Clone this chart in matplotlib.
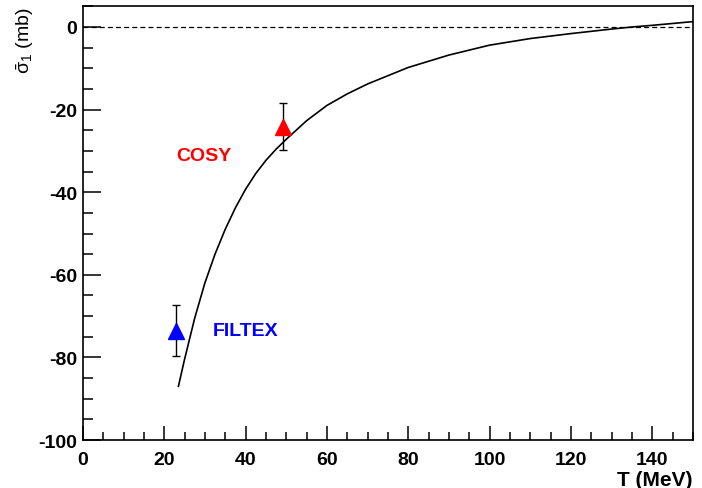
import matplotlib.pyplot as plt
from matplotlib.ticker import MultipleLocator

plt.rcParams['font.family'] = ['Liberation Sans', 'DejaVu Sans']
plt.rcParams['axes.unicode_minus'] = False
plt.rcParams['mathtext.fontset'] = 'custom'
plt.rcParams['mathtext.rm'] = 'Liberation Sans'
plt.rcParams['mathtext.it'] = 'Liberation Sans'

# theory curve
T_curve = [23.5, 25, 27.5, 30, 32.5, 35, 37.5, 40, 42.5, 45, 47.5, 50, 55, 60, 65,
           70, 80, 90, 100, 110, 120, 130, 135, 140, 150]
sigma_curve = [-87, -80.5, -70.5, -62, -55, -49, -43.8, -39.3, -35.5, -32.3, -29.6,
               -27.2, -22.7, -19, -16.2, -13.8, -9.8, -6.8, -4.4, -2.8, -1.6, -0.5,
               0.0, 0.4, 1.3]

# measurements
exp_names = ['FILTEX', 'COSY']
exp_T = [23.0, 49.3]
exp_sigma = [-73.5, -24.1]
exp_err = [6.1, 5.7]
exp_colors = ['blue', 'red']
label_pos = [(32, -73.5), (23, -31)]

fig = plt.figure(figsize=(7.02, 4.89), dpi=100)
ax = fig.add_axes([0.118, 0.098, 0.869, 0.887])

ax.axhline(0, color='black', linestyle=(0, (4, 2.5)), linewidth=0.9)
ax.plot(T_curve, sigma_curve, color='black', linewidth=1.2)

for name, t, s, e, c, pos in zip(exp_names, exp_T, exp_sigma, exp_err, exp_colors, label_pos):
    ax.errorbar(t, s, yerr=e, fmt='none', ecolor='black', elinewidth=1.0, capsize=3)
    ax.plot(t, s, marker='^', color=c, markersize=11, linestyle='none')
    ax.text(pos[0], pos[1], name, color=c, fontsize=14, fontweight='bold',
            ha='left', va='center')

ax.set_xlim(0, 150)
ax.set_ylim(-100, 5)
ax.xaxis.set_major_locator(MultipleLocator(20))
ax.xaxis.set_minor_locator(MultipleLocator(5))
ax.yaxis.set_major_locator(MultipleLocator(20))
ax.yaxis.set_minor_locator(MultipleLocator(5))
ax.tick_params(axis='x', which='major', direction='in', length=10, width=1.1,
               labelsize=14, pad=8, top=False)
ax.tick_params(axis='x', which='minor', direction='in', length=6, width=1.1, top=False)
ax.tick_params(axis='y', which='major', direction='in', length=13, width=1.1,
               labelsize=14, pad=4, right=False)
ax.tick_params(axis='y', which='minor', direction='in', length=7, width=1.1, right=False)
for lab in ax.get_xticklabels() + ax.get_yticklabels():
    lab.set_fontweight('bold')
for sp in ax.spines.values():
    sp.set_linewidth(1.2)

ax.set_xlabel('T (MeV)', fontsize=15, fontweight='bold', loc='right', labelpad=1)
ax.set_ylabel(r'$\bar{\sigma}_1$ (mb)', fontsize=14, loc='top')
ax.yaxis.set_label_coords(-0.077, 1.0)

fig.savefig('out.png', dpi=100)
